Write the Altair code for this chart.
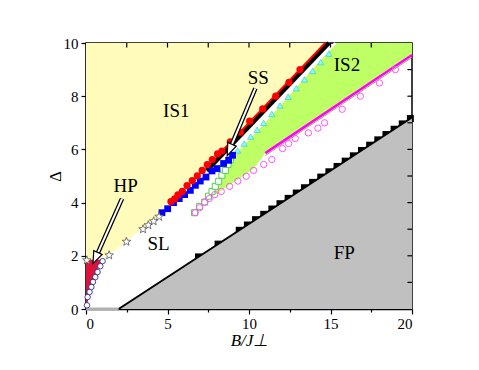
import math
import altair as alt
import pandas as pd

FONT = "Liberation Serif"

# ---------------- region boundaries ----------------
is1_B = [0, 0.5, 1.4, 2.5, 3.5, 4.5, 5.2, 7.4, 14.9]
is1_D = [1.8, 1.85, 2.02, 2.55, 3.05, 3.55, 3.95, 5.2, 10.0]

is2_B = [6.7, 7.0, 7.7, 8.3, 8.85, 9.3, 10.3, 11.0, 15.3, 20]
is2_top = [3.62, 3.9, 4.45, 4.95, 5.61, 5.9, 6.55, 7.0, 10.0, 10.0]
is2_bot = [3.62, 3.84, 4.2, 4.45, 4.68, 4.85, 5.28, 5.86, 7.62, 9.55]

fp_B = [2, 20]
fp_D = [0, 7.2]

hp_D = [0, 0.14, 0.64, 1.0, 1.4, 1.85]
hp_B = [0, 0.06, 0.22, 0.43, 0.7, 0.9]

# ---------------- lines ----------------
black_B = [7.4, 14.9]
black_D = [5.2, 10.0]
red_B = [8.5, 14.68]
red_D = [6.04, 10.0]
white_B = [8.9, 15.3]
white_D = [5.85, 10.0]
mag_B = [11.0, 20]
mag_D = [5.86, 9.55]
olive_B = [11.0, 20]
olive_D = [5.77, 9.46]

# ---------------- symbols ----------------
red_pts_B = [5.21, 5.44, 5.64, 5.91, 6.2, 6.52, 6.83, 7.13, 7.44, 7.75, 8.07, 8.34,
             8.85, 9.47, 10.04, 10.84, 11.64, 12.45, 13.13]
red_pts_D = [4.04, 4.14, 4.29, 4.42, 4.64, 4.83, 5.01, 5.21, 5.43, 5.62, 5.83, 5.94,
             6.28, 6.65, 7.06, 7.52, 8.0, 8.52, 9.0]

blue_sq_B = [4.66, 5.01, 5.37, 5.72, 6.05, 6.4, 6.71, 7.01, 7.36, 7.73, 8.04, 8.44, 8.75, 8.99]
blue_sq_D = [3.62, 3.77, 4.0, 4.15, 4.3, 4.46, 4.65, 4.81, 4.96, 5.19, 5.28, 5.47, 5.59, 5.78]

green_sq_B = [6.66, 6.97, 7.28, 7.52, 7.73, 7.93, 8.14, 8.34, 8.55, 8.71, 8.85]
green_sq_D = [3.62, 3.86, 4.02, 4.24, 4.42, 4.61, 4.8, 5.03, 5.21, 5.43, 5.61]

cyan_tri_B = [8.9, 9.3, 9.7, 10.1, 10.5, 10.9, 11.4, 11.9, 12.4, 12.9, 13.4, 13.9, 14.4, 14.9]
cyan_tri_D = [5.7, 5.96, 6.22, 6.48, 6.74, 7.0, 7.33, 7.65, 7.98, 8.3, 8.63, 8.95, 9.28, 9.6]

pink_B = [6.7, 6.97, 7.28, 7.56, 7.9, 8.3, 8.81, 9.32, 9.83, 10.28, 10.9, 11.4,
          12.06, 12.43, 12.84, 13.64, 14.23, 14.64, 15.72, 16.83, 18.0, 18.98]
pink_D = [3.62, 3.81, 4.02, 4.15, 4.3, 4.42, 4.61, 4.81, 4.99, 5.21, 5.43, 5.62,
          6.03, 6.22, 6.41, 6.62, 6.8, 7.0, 7.51, 8.0, 8.5, 9.0]

hp_circ_B = [0.06, 0.1, 0.22, 0.33, 0.43, 0.57, 0.71, 0.88, 1.02]
hp_circ_D = [0.14, 0.45, 0.64, 0.83, 1.02, 1.2, 1.39, 1.61, 1.8]

star_B = [0.05, 1.42, 2.48, 3.5, 3.82, 4.15, 4.48]
star_D = [1.83, 2.02, 2.53, 3.0, 3.15, 3.3, 3.47]

fp_sq_B = [6.9, 8.1, 9.4, 9.9, 10.4, 10.9, 11.4, 11.9, 12.4, 12.9, 13.4, 13.9, 14.4,
           14.9, 15.4, 15.9, 16.4, 16.9, 17.4, 17.9, 18.4, 18.9, 19.4, 19.9]
fp_sq_D = [1.96, 2.44, 2.96, 3.16, 3.36, 3.56, 3.76, 3.96, 4.16, 4.36, 4.56, 4.76, 4.96,
           5.16, 5.36, 5.56, 5.76, 5.96, 6.16, 6.36, 6.56, 6.76, 6.96, 7.16]

# ---------------- annotations ----------------
lab_text = ["IS1", "SS", "IS2", "HP", "SL", "FP"]
lab_B = [5.54, 10.57, 16.01, 2.43, 4.45, 15.84]
lab_D = [7.2, 8.45, 8.94, 4.4, 2.23, 1.89]

arrow_name = ["HP", "HP", "SS", "SS"]
arrow_B = [2.21, 0.71, 10.39, 8.93]
arrow_D = [4.15, 2.08, 8.29, 6.16]
head_B = [0.58, 8.81]
head_D = [1.91, 5.98]
head_angle = [204, 203]

top_ticks = [2.5, 5, 7.5, 10, 12.5, 15, 17.5]
right_ticks = [1, 2, 3, 4, 5, 6, 7, 8, 9]

# ---------------- helpers ----------------
xs = alt.Scale(domain=[0, 20], nice=False, zero=False)
ys = alt.Scale(domain=[0, 10], nice=False, zero=False)

x_axis = alt.Axis(
    values=[0, 2.5, 5, 7.5, 10, 12.5, 15, 17.5, 20],
    labelExpr="datum.value % 5 === 0 ? datum.label : ''",
    tickSize={"condition": {"test": "datum.value % 5 === 0", "value": 5}, "value": 3},
    title="B/J⊥", titleFontSize=17, titleFontStyle="italic",
    titleFontWeight="normal", titleY=36, titleBaseline="alphabetic",
    labelFontSize=15, labelColor="black", labelPadding=2,
    domainColor="black", domainWidth=1.5, tickColor="black", tickWidth=1.2,
    grid=False,
)
y_axis = alt.Axis(
    values=list(range(0, 11)),
    labelExpr="datum.value % 2 === 0 ? datum.label : ''",
    tickSize={"condition": {"test": "datum.value % 2 === 0", "value": 5}, "value": 3},
    title="Δ", titleFontSize=17, titleFontWeight="normal",
    titleX=-31, titleY=133, titleAngle=-90, titleBaseline="middle", titleAlign="center",
    labelFontSize=15, labelColor="black", labelPadding=3,
    domainColor="black", domainWidth=1.5, tickColor="black", tickWidth=1.2,
    grid=False,
)


def df(B, D, **extra):
    d = {"B": B, "D": D}
    d.update(extra)
    return pd.DataFrame(d)


def X(field="B"):
    return alt.X(f"{field}:Q", scale=xs, axis=x_axis)


def Y(field="D"):
    return alt.Y(f"{field}:Q", scale=ys, axis=y_axis)


layers = []

# IS1 yellow
layers.append(alt.Chart(df(is1_B, is1_D)).mark_area(color="#FFFCBB", opacity=1).encode(
    x=X(), y=Y(), y2=alt.datum(10)))
# IS2 green
layers.append(alt.Chart(df(is2_B, is2_top, lo=is2_bot)).mark_area(color="#BFFF66", opacity=1).encode(
    x=X(), y=Y(), y2="lo:Q"))
# FP squares (teeth), gray area, black line
layers.append(alt.Chart(df(fp_sq_B, fp_sq_D)).mark_point(
    shape="square", filled=True, color="black", size=48, opacity=1).encode(x=X(), y=Y()))
layers.append(alt.Chart(df(fp_B, fp_D)).mark_area(color="#C0C0C0", opacity=1).encode(
    x=X(), y=Y(), y2=alt.datum(0)))
layers.append(alt.Chart(df(fp_B, fp_D)).mark_line(color="black", strokeWidth=2).encode(x=X(), y=Y()))
layers.append(alt.Chart(df([0, 2], [0, 0])).mark_line(color="#B0B0B0", strokeWidth=3).encode(x=X(), y=Y()))
# HP crimson
layers.append(alt.Chart(df(hp_B, hp_D)).mark_area(color="#DC143C", orient="horizontal", opacity=1).encode(
    y=Y(), x=X(), x2=alt.datum(0)))

# lines
layers.append(alt.Chart(df(black_B, black_D)).mark_line(color="black", strokeWidth=4.5).encode(x=X(), y=Y()))
layers.append(alt.Chart(df(red_B, red_D)).mark_line(color="#FF0000", strokeWidth=2).encode(x=X(), y=Y()))
layers.append(alt.Chart(df(white_B, white_D)).mark_line(color="white", strokeWidth=2.5).encode(x=X(), y=Y()))
layers.append(alt.Chart(df(olive_B, olive_D)).mark_line(color="#A8A850", strokeWidth=1).encode(x=X(), y=Y()))
layers.append(alt.Chart(df(mag_B, mag_D)).mark_line(color="#FF00FF", strokeWidth=2.5).encode(x=X(), y=Y()))

# symbols
star_pts = []
for i in range(10):
    r = 1.0 if i % 2 == 0 else 0.42
    a = -math.pi / 2 + i * math.pi / 5
    star_pts.append(f"{r * math.cos(a):.3f},{r * math.sin(a):.3f}")
STAR = "M" + "L".join(star_pts) + "Z"

layers.append(alt.Chart(df(cyan_tri_B, cyan_tri_D)).mark_point(
    shape="triangle-up", filled=True, fill="#7FFFFF", stroke="#40C0C0", strokeWidth=0.6,
    size=40, opacity=1).encode(x=X(), y=Y()))
layers.append(alt.Chart(df(green_sq_B, green_sq_D)).mark_point(
    shape="square", fill="white", filled=False, stroke="#50D050", strokeWidth=1,
    size=36, opacity=1).encode(x=X(), y=Y()))
layers.append(alt.Chart(df(pink_B, pink_D)).mark_point(
    shape="circle", filled=False, stroke="#FF55FF", strokeWidth=1, size=40,
    opacity=1).encode(x=X(), y=Y()))
layers.append(alt.Chart(df(blue_sq_B, blue_sq_D)).mark_point(
    shape="square", filled=True, color="#0000FF", size=46, opacity=1).encode(x=X(), y=Y()))
layers.append(alt.Chart(df(red_pts_B, red_pts_D)).mark_point(
    shape="circle", filled=True, color="#FF0000", size=52, opacity=1).encode(x=X(), y=Y()))
layers.append(alt.Chart(df(hp_circ_B, hp_circ_D)).mark_point(
    shape="circle", filled=True, fill="white", stroke="#1A1A8C", strokeWidth=0.8, size=30,
    opacity=1).encode(x=X(), y=Y()))
layers.append(alt.Chart(df(star_B, star_D)).mark_point(
    shape=STAR, filled=True, fill="white", stroke="#555555", strokeWidth=0.8, size=81,
    opacity=1).encode(x=X(), y=Y()))

# inward ticks on top and right
layers.append(alt.Chart(pd.DataFrame({"B": top_ticks})).mark_rule(color="black", strokeWidth=1.2).encode(
    x=X(), y=alt.datum(10), y2=alt.datum(9.83)))
layers.append(alt.Chart(pd.DataFrame({"D": right_ticks})).mark_rule(color="black", strokeWidth=1.2).encode(
    y=Y(), x=alt.datum(20), x2=alt.datum(19.72)))

# arrows
arr = df(arrow_B, arrow_D, name=arrow_name)
layers.append(alt.Chart(arr).mark_line(color="black", strokeWidth=4.5).encode(
    x=X(), y=Y(), detail="name:N"))
layers.append(alt.Chart(arr).mark_line(color="white", strokeWidth=2).encode(
    x=X(), y=Y(), detail="name:N"))
layers.append(alt.Chart(df(head_B, head_D, ang=head_angle)).mark_point(
    shape="M0,-1L0.75,1L-0.75,1Z", filled=True, fill="white", stroke="black", strokeWidth=1.2,
    size=150, opacity=1).encode(x=X(), y=Y(), angle=alt.Angle("ang:Q", scale=None)))

# labels
layers.append(alt.Chart(pd.DataFrame({"B": lab_B, "D": lab_D, "t": lab_text})).mark_text(
    font=FONT, fontSize=19, color="black", baseline="alphabetic", align="center").encode(
    x=X(), y=Y(), text="t:N"))

chart = alt.layer(*layers).properties(
    width=326, height=266,
    autosize=alt.AutoSizeParams(type="none"),
    padding={"left": 78, "top": 35, "right": 59, "bottom": 53},
).configure_view(stroke="black", strokeWidth=1.5).configure_axis(
    grid=False, labelFont=FONT, titleFont=FONT, labelColor="black", titleColor="black"
)

chart.save("out.html", embed_options={"renderer": "svg", "actions": False})
